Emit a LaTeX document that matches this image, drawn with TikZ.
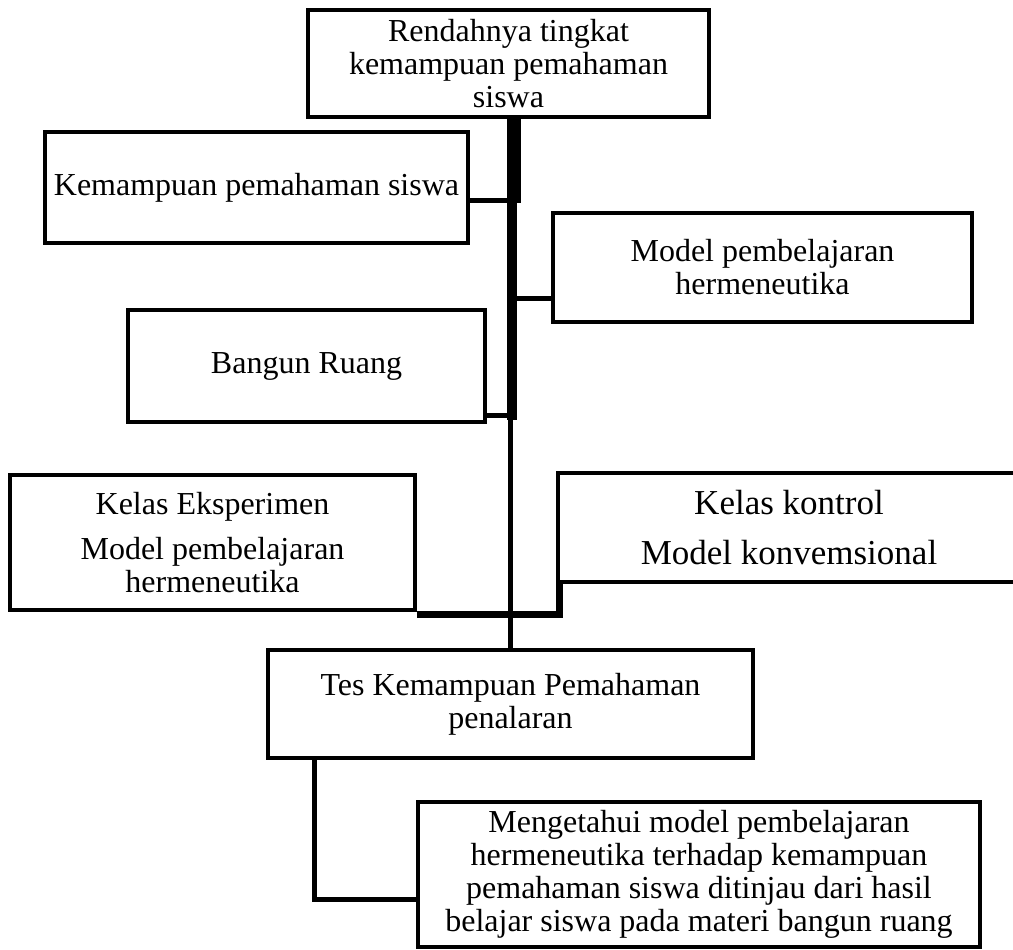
\documentclass[tikz,border=0pt]{standalone}
\usepackage{fontspec}
\setmainfont{Liberation Serif}
\usetikzlibrary{calc}

\begin{document}
\begin{tikzpicture}[x=1pt,y=-1pt]
    \useasboundingbox (0,0) rectangle (1013,950);
    \tikzset{BoxStyle/.style = {draw, line width=4.5pt, inner sep=0pt, align=center,
        font=\fontsize{32}{33}\selectfont}}
    \tikzset{LinkStyle/.style = {line width=5pt}}

    \node[BoxStyle, minimum width=401, minimum height=107] (bTop) at (508.5,63.5)
        {Rendahnya tingkat\\kemampuan pemahaman\\siswa};
    \node[BoxStyle, minimum width=423, minimum height=111] (bKps) at (256.5,187.5)
        {Kemampuan pemahaman siswa};
    \node[BoxStyle, minimum width=419, minimum height=109] (bModel) at (762.5,267.5)
        {Model pembelajaran\\hermeneutika};
    \node[BoxStyle, minimum width=357, minimum height=112] (bBangun) at (306.5,366)
        {Bangun Ruang};
    \node[BoxStyle, minimum width=405, minimum height=135] (bEksp) at (212.5,542.5)
        {Kelas Eksperimen\\[12pt]Model pembelajaran\\hermeneutika};
    \node[BoxStyle, minimum width=462, minimum height=109, font=\fontsize{35}{36}\selectfont]
        (bKontrol) at (789,527.5) {Kelas kontrol\\[14pt]Model konvemsional};
    \node[BoxStyle, minimum width=485, minimum height=108] (bTes) at (510.5,704)
        {Tes Kemampuan Pemahaman\\penalaran};
    \node[BoxStyle, minimum width=562, minimum height=145] (bTujuan) at (699,874.5)
        {Mengetahui model pembelajaran\\hermeneutika terhadap kemampuan\\pemahaman siswa ditinjau dari hasil\\belajar siswa pada materi bangun ruang};

    % trunk
    \coordinate (jA) at (514,203);
    \coordinate (jB) at (512,420);
    \draw[line width=14pt] (bTop.south -| jA) -- (jA);
    \draw[line width=10pt] (jA -| jB) -- (jB);
    \draw[LinkStyle] (jB -| bTes.north) -- (bTes.north);

    % branches
    \draw[LinkStyle] ($(bKps.east)+(0,12.5)$) -- +(42,0);
    \draw[LinkStyle] ($(bModel.west)+(0,30.5)$) -- +(-40,0);
    \draw[LinkStyle] ($(bBangun.east)+(0,49)$) -- +(24,0);

    % right line
    \draw[LinkStyle] ($(bModel.north west)+(9,0)$) -- ($(bModel.north west)+(9,0)$ |- bTop.south);
    \draw[LinkStyle] ($(bModel.south west)+(9,0)$) -- ($(bModel.south west)+(9,0)$ |- bKontrol.north);

    % kelas
    \draw[line width=7pt] ($(bEksp.south east)+(0,2)$) -| ($(bKontrol.south west)+(4,0)$);

    % tes
    \draw[LinkStyle] ($(bTes.south west)+(49,0)$) |- ($(bTujuan.west)+(0,24.5)$);
\end{tikzpicture}
\end{document}
